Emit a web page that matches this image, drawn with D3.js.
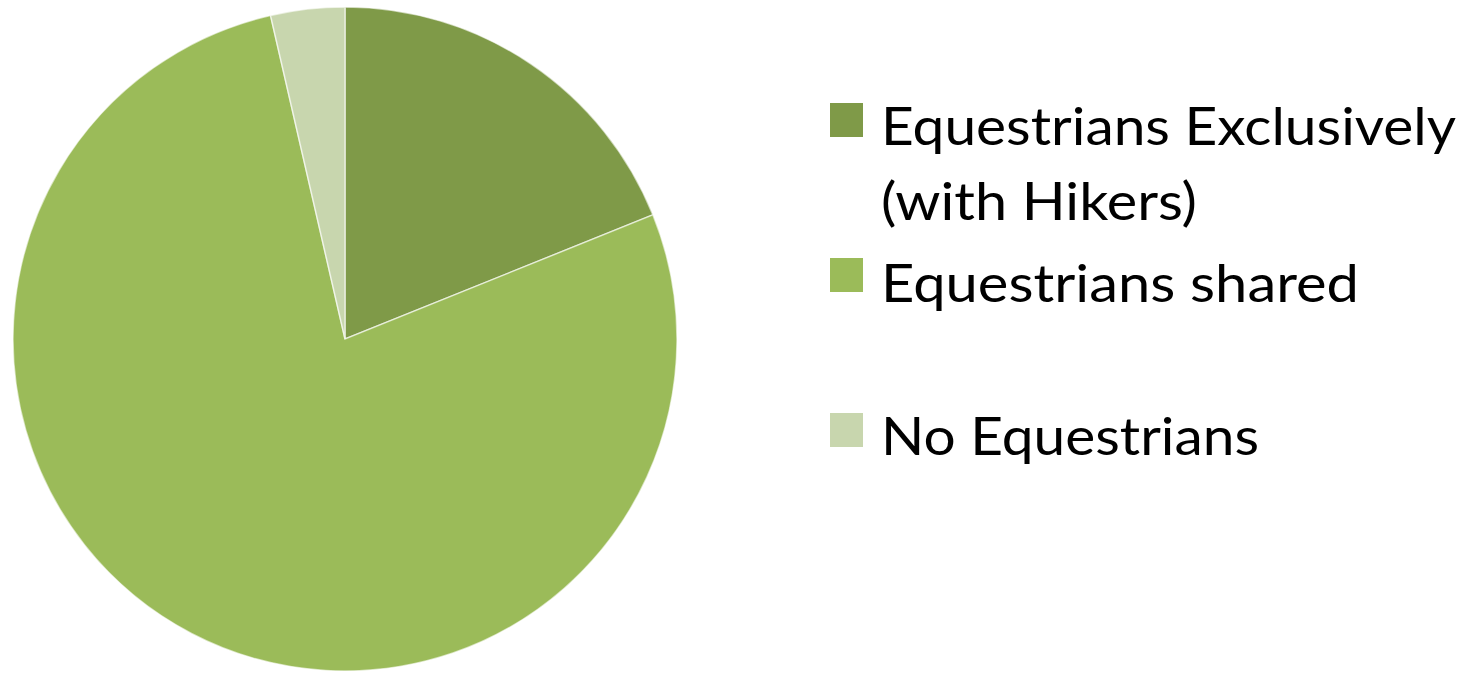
<!DOCTYPE html>
<html>
<head>
<meta charset="utf-8">
<script src="https://cdn.jsdelivr.net/npm/d3@7"></script>
<style>
  html, body { margin: 0; padding: 0; background: #fff; }
  svg { display: block; }
</style>
</head>
<body>
<svg id="chart" width="1477" height="675"></svg>
<script>
// Data
const categories = ["Equestrians Exclusively (with Hikers)", "Equestrians shared", "No Equestrians"];
const values = [18.9, 77.5, 3.6];
const colors = ["#7F9A48", "#9BBB59", "#C8D6AE"];
// legend labels split into lines
const legendLines = [["Equestrians Exclusively", "(with Hikers)"], ["Equestrians shared"], ["No Equestrians"]];
const lineWidths = [[575, 316], [478], [378]];

const svg = d3.select("#chart");
const cx = 345, cy = 339, r = 332;

const pie = d3.pie().sort(null).value(d => d)(values);
const arc = d3.arc().innerRadius(0).outerRadius(r);

svg.append("g")
  .attr("transform", `translate(${cx},${cy})`)
  .selectAll("path")
  .data(pie)
  .join("path")
  .attr("d", arc)
  .attr("fill", (d, i) => colors[i])
  .attr("stroke", "#ffffff")
  .attr("stroke-opacity", 0.6)
  .attr("stroke-width", 1.5);

// Legend
const legendX = 830;
const squareY = [103, 258, 413];
const baseY = [145, 302, 455];
const lineGap = 75;
const lg = svg.append("g");
categories.forEach((c, i) => {
  lg.append("rect")
    .attr("x", legendX)
    .attr("y", squareY[i])
    .attr("width", 33)
    .attr("height", 34)
    .attr("fill", colors[i]);
  legendLines[i].forEach((t, j) => {
    lg.append("text")
      .attr("x", 881)
      .attr("y", baseY[i] + j * lineGap)
      .attr("font-family", "Lato, 'Open Sans', sans-serif")
      .attr("font-size", 52)
      .attr("fill", "#000")
      .attr("textLength", lineWidths[i][j])
      .attr("lengthAdjust", "spacingAndGlyphs")
      .text(t);
  });
});
</script>
</body>
</html>
